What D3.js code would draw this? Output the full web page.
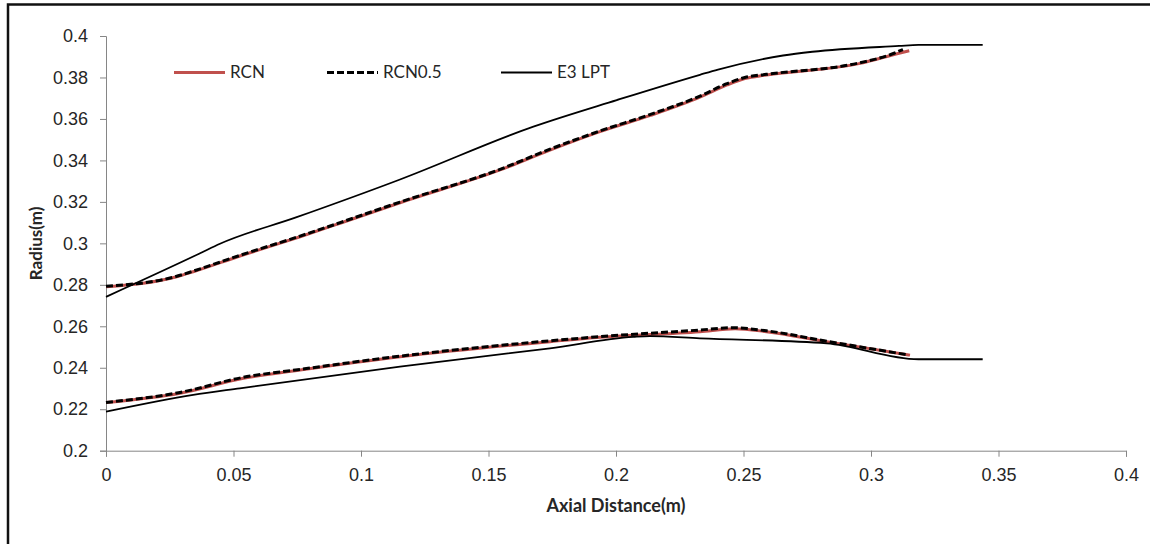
<!DOCTYPE html>
<html>
<head>
<meta charset="utf-8">
<script src="https://cdn.jsdelivr.net/npm/d3@7"></script>
<style>
  html, body { margin: 0; padding: 0; background: #fff; }
  svg { display: block; font-family: Lato, "Open Sans", sans-serif; }
</style>
</head>
<body>
<svg id="chart" width="1150" height="544"></svg>
<script>
// Axis ticks
const xTicks = [0, 0.05, 0.1, 0.15, 0.2, 0.25, 0.3, 0.35, 0.4];
const yTicks = [0.2, 0.22, 0.24, 0.26, 0.28, 0.3, 0.32, 0.34, 0.36, 0.38, 0.4];

// Series names
const seriesNames = ["RCN", "RCN0.5", "E3 LPT"];

// RCN: upper (casing) and lower (hub) contours, [axial distance, radius]
const rcnUpper = [
  [0, 0.2791], [0.0277, 0.2839], [0.0342, 0.2863], [0.0525, 0.2939], [0.0761, 0.3032],
  [0.0918, 0.3097], [0.1153, 0.3196], [0.1545, 0.3354], [0.1741, 0.3450], [0.1937, 0.3539],
  [0.2135, 0.3617], [0.2329, 0.3705], [0.2435, 0.3764], [0.2505, 0.3795], [0.2590, 0.3812],
  [0.2957, 0.3868], [0.3110, 0.3917], [0.3150, 0.3929]
];
const rcnLower = [
  [0, 0.2232], [0.0290, 0.2277], [0.0539, 0.2349], [0.0761, 0.2389], [0.1153, 0.2453],
  [0.1741, 0.2526], [0.1937, 0.2547], [0.2329, 0.2574], [0.2467, 0.2588], [0.2590, 0.2574],
  [0.2826, 0.2526], [0.3153, 0.2461]
];

// RCN0.5
const rcn05Upper = [
  [0, 0.2793], [0.0277, 0.2841], [0.0342, 0.2866], [0.0525, 0.2942], [0.0761, 0.3035],
  [0.0918, 0.3100], [0.1153, 0.3199], [0.1545, 0.3357], [0.1741, 0.3454], [0.1937, 0.3542],
  [0.2135, 0.3622], [0.2329, 0.3710], [0.2435, 0.3770], [0.2505, 0.3800], [0.2590, 0.3815],
  [0.2957, 0.3871], [0.3080, 0.3912], [0.3125, 0.3935]
];
const rcn05Lower = [
  [0, 0.2233], [0.0290, 0.2281], [0.0539, 0.2354], [0.0761, 0.2392], [0.1153, 0.2456],
  [0.1741, 0.2530], [0.1937, 0.2550], [0.2329, 0.2582], [0.2459, 0.2593], [0.2590, 0.2578],
  [0.2826, 0.2528], [0.3140, 0.2463]
];

// E3 LPT
const e3Upper = [
  [0, 0.2742], [0.0369, 0.2952], [0.0447, 0.2998], [0.0745, 0.3125], [0.1153, 0.3308],
  [0.1676, 0.3563], [0.2003, 0.3691], [0.2329, 0.3813], [0.2400, 0.3838], [0.2655, 0.3906],
  [0.2770, 0.3924], [0.3110, 0.3952], [0.3186, 0.3957], [0.3438, 0.3957]
];
const e3Lower = [
  [0, 0.2188], [0.0342, 0.2269], [0.0525, 0.2301], [0.1153, 0.2405], [0.1741, 0.2494],
  [0.2068, 0.2549], [0.2133, 0.2553], [0.2329, 0.2542], [0.2826, 0.2518], [0.3186, 0.2441],
  [0.3438, 0.2441]
];

const svg = d3.select("#chart");
const W = 1150, H = 544;
const plot = { left: 106, right: 1126, top: 36, bottom: 450.7 };

const x = d3.scaleLinear().domain([0, 0.4]).range([plot.left, plot.right]);
const y = d3.scaleLinear().domain([0.2, 0.4]).range([plot.bottom, plot.top]);

// Outer frame (only top and left edges fall inside the canvas)
svg.append("rect")
  .attr("x", 8).attr("y", 4.5)
  .attr("width", W + 20).attr("height", H + 20)
  .attr("fill", "none").attr("stroke", "#111").attr("stroke-width", 2.5);

const axisColor = "#868686";
const textColor = "#262626";

// Y axis
const yAxis = svg.append("g")
  .attr("transform", `translate(${plot.left},0)`)
  .call(d3.axisLeft(y).tickValues(yTicks).tickSize(6).tickPadding(12)
    .tickFormat(d => d3.format("~g")(d)));
yAxis.select(".domain").attr("stroke", axisColor);
yAxis.selectAll(".tick line").attr("stroke", axisColor);
yAxis.selectAll(".tick text").attr("fill", textColor).attr("font-size", 18);

// X axis
const xAxis = svg.append("g")
  .attr("transform", `translate(0,${plot.bottom})`)
  .call(d3.axisBottom(x).tickValues(xTicks).tickSize(6).tickPadding(12)
    .tickFormat(d => d3.format("~g")(d)));
xAxis.select(".domain").attr("stroke", axisColor);
xAxis.selectAll(".tick line").attr("stroke", axisColor);
xAxis.selectAll(".tick text").attr("fill", textColor).attr("font-size", 18);

// Axis titles
svg.append("text")
  .attr("x", (plot.left + plot.right) / 2).attr("y", 512)
  .attr("text-anchor", "middle")
  .attr("font-size", 18).attr("font-weight", "bold").attr("fill", textColor)
  .text("Axial Distance(m)");

svg.append("text")
  .attr("transform", `translate(42,${(plot.top + plot.bottom) / 2}) rotate(-90)`)
  .attr("text-anchor", "middle")
  .attr("font-size", 17).attr("font-weight", "bold").attr("fill", textColor)
  .text("Radius(m)");

// Line styles per series
const styles = [
  { color: "#C0504D", width: 3, dash: null },
  { color: "#000", width: 3, dash: "7,3" },
  { color: "#000", width: 1.8, dash: null }
];
const seriesData = [
  [rcnUpper, rcnLower],
  [rcn05Upper, rcn05Lower],
  [e3Upper, e3Lower]
];

const line = d3.line().x(d => x(d[0])).y(d => y(d[1])).curve(d3.curveMonotoneX);

const lines = svg.append("g").attr("fill", "none");
seriesData.forEach((curves, i) => {
  curves.forEach(c => {
    lines.append("path")
      .datum(c)
      .attr("d", line)
      .attr("stroke", styles[i].color)
      .attr("stroke-width", styles[i].width)
      .attr("stroke-dasharray", styles[i].dash)
      .attr("stroke-linejoin", "round");
  });
});

// Legend
const legendX = [174, 327, 501];
const legend = svg.append("g");
seriesNames.forEach((name, i) => {
  const g = legend.append("g").attr("transform", `translate(${legendX[i]},72.5)`);
  g.append("line")
    .attr("x1", 0).attr("x2", 51).attr("y1", 0).attr("y2", 0)
    .attr("stroke", styles[i].color)
    .attr("stroke-width", styles[i].width)
    .attr("stroke-dasharray", styles[i].dash);
  g.append("text")
    .attr("x", 56).attr("y", 0).attr("dy", "0.35em")
    .attr("font-size", 17).attr("fill", textColor)
    .text(name);
});
</script>
</body>
</html>
